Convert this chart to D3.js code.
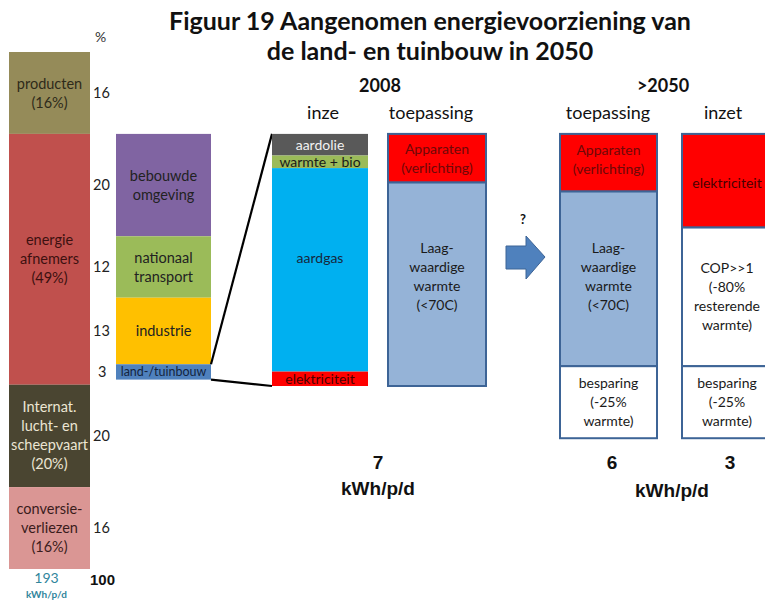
<!DOCTYPE html>
<html>
<head>
<meta charset="utf-8">
<script src="https://cdn.jsdelivr.net/npm/d3@7/dist/d3.min.js"></script>
<style>
  body { margin: 0; background: #fff; }
</style>
</head>
<body>
<svg id="chart" width="765" height="601"></svg>
<script>
// ---- data ---------------------------------------------------------------
// National energy use split (percent of 193 kWh/p/d)
const shareLabels = [["producten", "(16%)"], ["energie", "afnemers", "(49%)"],
                     ["Internat.", "lucht- en", "scheepvaart", "(20%)"], ["conversie-", "verliezen", "(16%)"]];
const shareValues = [16, 49, 20, 16];
const shareTotal = "100";
const shareUnitValue = "193";
const unitLabel = "kWh/p/d";

// Breakdown of the energy consumers (percent)
const consumerLabels = [["bebouwde", "omgeving"], ["nationaal", "transport"], ["industrie"], ["land-/tuinbouw"]];
const consumerValues = [20, 12, 13, 3];

// Land- en tuinbouw 2008 (kWh/p/d)
const inzet2008Labels = [["aardolie"], ["warmte + bio"], ["aardgas"], ["elektriciteit"]];
const inzet2008Values = [0.6, 0.35, 5.65, 0.4];
const toep2008Labels = [["Apparaten", "(verlichting)"], ["Laag-", "waardige", "warmte", "(<70C)"]];
const toep2008Values = [1.35, 5.65];

// Land- en tuinbouw >2050 (kWh/p/d)
const toep2050Labels = [["Apparaten", "(verlichting)"], ["Laag-", "waardige", "warmte", "(<70C)"], ["besparing", "(-25%", "warmte)"]];
const toep2050Values = [1.6, 4.85, 2.0];
const inzet2050Labels = [["elektriciteit"], ["COP>>1", "(-80%", "resterende", "warmte)"], ["besparing", "(-25%", "warmte)"]];
const inzet2050Values = [2.6, 3.85, 2.0];

const totalLabels = ["7", "6", "3"];

// ---- drawing ------------------------------------------------------------
const LATO = "Lato, 'Open Sans', sans-serif";
const ARIAL = "'Liberation Sans', Arial, sans-serif";
const svg = d3.select("#chart").attr("font-family", LATO);
const BORDER = "#3d6496";

// stack helper: returns segments with start/end
function stack(values, start = 0) {
  let acc = start;
  return values.map((v, i) => { const s = acc; acc += v; return { i, v, s, e: acc }; });
}

function multiline(g, lines, cx, cy, opts) {
  const lh = opts.lh || 19;
  const t = g.append("text")
    .attr("x", cx)
    .attr("text-anchor", "middle")
    .attr("font-size", opts.size || 14)
    .attr("fill", opts.fill || "#222")
    .attr("font-weight", opts.weight || "normal");
  lines.forEach((l, k) => {
    t.append("tspan").attr("x", cx)
      .attr("y", cy + (k - (lines.length - 1) / 2) * lh)
      .attr("dy", "0.35em").text(l);
  });
  return t;
}

// title
const title = svg.append("g").attr("text-anchor", "middle").attr("font-size", 25)
  .attr("font-family", LATO).attr("font-weight", 700).attr("fill", "#111");
title.append("text").attr("x", 430).attr("y", 30).text("Figuur 19 Aangenomen energievoorziening van");
title.append("text").attr("x", 430).attr("y", 60).text("de land- en tuinbouw in 2050");

// percent scale shared by the two left bars
const yPct = d3.scaleLinear().domain([0, d3.sum(shareValues)]).range([52, 569]);

// left bar: national split
const shareColors = ["#958b59", "#c0504d", "#4a4531", "#da9694"];
const shareText = ["#2e2a1a", "#3d1010", "#ece6d4", "#3a1c1c"];
const leftX = 9, leftW = 81;
const gLeft = svg.append("g");
stack(shareValues).forEach(d => {
  gLeft.append("rect").attr("x", leftX).attr("y", yPct(d.s)).attr("width", leftW)
    .attr("height", yPct(d.e) - yPct(d.s)).attr("fill", shareColors[d.i]);
  multiline(gLeft, shareLabels[d.i], leftX + leftW / 2, (yPct(d.s) + yPct(d.e)) / 2,
    { size: 14.5, fill: shareText[d.i] });
});

// value column next to left bar
const numX = 93;
svg.append("text").attr("x", numX + 2).attr("y", 37).attr("dy", "0.35em")
  .attr("font-size", 14).attr("fill", "#333").text("%");
const gNums = svg.append("g").attr("font-size", 14.5).attr("fill", "#222");
stack(shareValues).forEach(d => {
  if (d.i === 1) return;
  gNums.append("text").attr("x", numX).attr("y", (yPct(d.s) + yPct(d.e)) / 2)
    .attr("dy", "0.35em").text(d.v);
});
stack(consumerValues, shareValues[0]).forEach(d => {
  gNums.append("text").attr("x", d.v < 10 ? numX + 5 : numX).attr("y", (yPct(d.s) + yPct(d.e)) / 2)
    .attr("dy", "0.35em").text(d.v);
});
svg.append("text").attr("x", 90).attr("y", 580).attr("dy", "0.35em")
  .attr("font-size", 15).attr("font-weight", 700).attr("fill", "#111")
  .attr("font-family", ARIAL).text(shareTotal);
svg.append("text").attr("x", leftX + leftW / 2 - 3).attr("y", 578).attr("dy", "0.35em")
  .attr("text-anchor", "middle").attr("font-size", 14).attr("fill", "#31859c").text(shareUnitValue);
svg.append("text").attr("x", leftX + leftW / 2 - 3).attr("y", 594).attr("dy", "0.35em")
  .attr("text-anchor", "middle").attr("font-size", 10).attr("font-weight", 700)
  .attr("fill", "#31859c").text(unitLabel);

// consumer breakdown bar
const consColors = ["#8064a2", "#9bbb59", "#ffc000", "#4f81bd"];
const consX = 116, consW = 95;
const gCons = svg.append("g");
const consSeg = stack(consumerValues, shareValues[0]);
consSeg.forEach(d => {
  gCons.append("rect").attr("x", consX).attr("y", yPct(d.s)).attr("width", consW)
    .attr("height", yPct(d.e) - yPct(d.s)).attr("fill", consColors[d.i]);
  multiline(gCons, consumerLabels[d.i], consX + consW / 2, (yPct(d.s) + yPct(d.e)) / 2,
    { size: d.i === 3 ? 12.5 : 14.5, fill: d.i === 3 ? "#14243d" : "#222", lh: 19 });
});

// kWh scale for the land- en tuinbouw bars (stacked from the top down)
const kTop = yPct(shareValues[0]);
const yK = d3.scaleLinear().domain([0, d3.sum(inzet2008Values)]).range([kTop, 386]);

// headings
const head = svg.append("g").attr("fill", "#111");
head.append("text").attr("x", 380).attr("y", 86).attr("dy", "0.35em").attr("text-anchor", "middle")
  .attr("font-size", 18).attr("font-weight", 700).text("2008");
head.append("text").attr("x", 663).attr("y", 86).attr("dy", "0.35em").attr("text-anchor", "middle")
  .attr("font-size", 18).attr("font-weight", 700).text(">2050");
[["inze", 323], ["toepassing", 431], ["toepassing", 608], ["inzet", 723]].forEach(([t, x]) => {
  head.append("text").attr("x", x).attr("y", 113).attr("dy", "0.35em").attr("text-anchor", "middle")
    .attr("font-size", 18).text(t);
});

// connector lines from the land-/tuinbouw segment to the 2008 input bar
const land = consSeg[3];
const inX = 272, inW = 96;
const gLines = svg.append("g").attr("stroke", "#000").attr("stroke-width", 2.2);
gLines.append("line").attr("x1", consX + consW).attr("y1", yPct(land.s))
  .attr("x2", inX).attr("y2", yK(0));
gLines.append("line").attr("x1", consX + consW).attr("y1", yPct(land.e))
  .attr("x2", inX).attr("y2", yK(d3.sum(inzet2008Values)));

// 2008 input bar
const inColors = ["#595959", "#9bbb59", "#00b0f0", "#ff0000"];
const inText = ["#f2f2f2", "#1a1a1a", "#17283d", "#4a0000"];
const gIn = svg.append("g");
stack(inzet2008Values).forEach(d => {
  gIn.append("rect").attr("x", inX).attr("y", yK(d.s)).attr("width", inW)
    .attr("height", yK(d.e) - yK(d.s)).attr("fill", inColors[d.i]);
  const cy = d.i === 2 ? yK(d.s) + (yK(d.e) - yK(d.s)) * 0.44 : (yK(d.s) + yK(d.e)) / 2;
  multiline(gIn, inzet2008Labels[d.i], inX + inW / 2, cy, { size: 14, fill: inText[d.i] });
});

// bordered stacked boxes
function boxes(values, labels, x, w, colors, texts, offsets) {
  const g = svg.append("g");
  stack(values).forEach(d => {
    g.append("rect").attr("x", x).attr("y", yK(d.s)).attr("width", w)
      .attr("height", yK(d.e) - yK(d.s)).attr("fill", colors[d.i])
      .attr("stroke", BORDER).attr("stroke-width", 2);
    multiline(g, labels[d.i], x + w / 2, (yK(d.s) + yK(d.e)) / 2 + (offsets ? offsets[d.i] : 0),
      { size: 14, fill: texts[d.i] });
  });
}
boxes(toep2008Values, toep2008Labels, 388, 98, ["#ff0000", "#95b3d7"], ["#6e0808", "#1a1a1a"], [0, -8]);
boxes(toep2050Values, toep2050Labels, 560, 97, ["#ff0000", "#95b3d7", "#ffffff"], ["#6e0808", "#1a1a1a", "#1a1a1a"], [-3, -2, 0]);
boxes(inzet2050Values, inzet2050Labels, 682, 90, ["#ff0000", "#ffffff", "#ffffff"], ["#4a0000", "#1a1a1a", "#1a1a1a"], [2, 0, 0]);

// arrow between the periods
const ax = 506, ay = 257;
svg.append("path")
  .attr("d", `M${ax},${ay - 11} h20 v-10 l19,21 l-19,22 v-10 h-20 z`)
  .attr("fill", "#4f81bd").attr("stroke", BORDER).attr("stroke-width", 1);
svg.append("text").attr("x", ax + 17).attr("y", 219).attr("dy", "0.35em").attr("text-anchor", "middle")
  .attr("font-size", 13).attr("font-weight", 700).attr("fill", "#111").text("?");

// totals
const tot = svg.append("g").attr("font-weight", 700).attr("fill", "#111")
  .attr("font-family", ARIAL).attr("text-anchor", "middle");
[[totalLabels[0], 378], [totalLabels[1], 612], [totalLabels[2], 730]].forEach(([t, x]) => {
  tot.append("text").attr("x", x).attr("y", 462).attr("dy", "0.35em").attr("font-size", 19).text(t);
});
tot.append("text").attr("x", 378).attr("y", 488).attr("dy", "0.35em").attr("font-size", 19).text(unitLabel);
tot.append("text").attr("x", 672).attr("y", 490).attr("dy", "0.35em").attr("font-size", 19).text(unitLabel);
</script>
</body>
</html>
